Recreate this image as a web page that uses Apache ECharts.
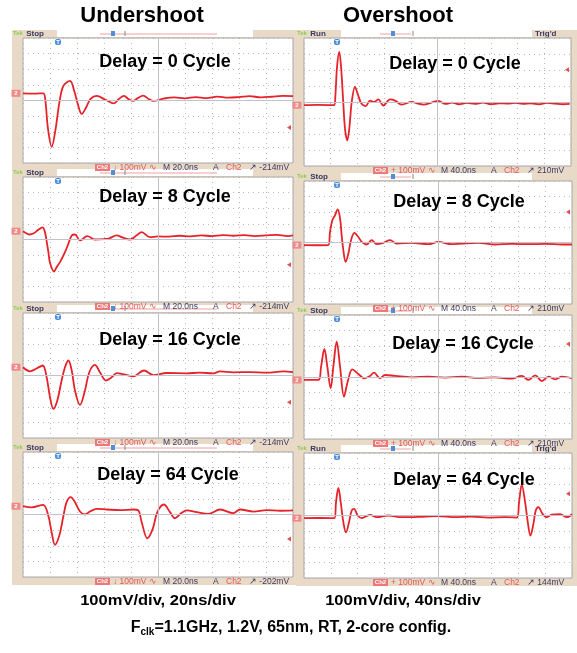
<!DOCTYPE html>
<html><head><meta charset="utf-8">
<script src="https://cdn.jsdelivr.net/npm/echarts@6/dist/echarts.min.js"></script>
<style>html,body{margin:0;padding:0;background:#fff}#c{width:577px;height:653px}</style>
</head><body><div id="c"></div><script>
// ---- data: [time ns, mV] ----
const under0 = [[0,46],[8,44],[15,46],[16.5,5],[18.5,-180],[21.3,-296],[24,-190],[27,-10],[30,95],[34.8,125],[38,60],[40.5,-20],[43.5,-86],[47,-40],[50,10],[54.6,29],[61,5],[67.4,-18],[71,10],[74.8,29],[78,10],[81.5,-3],[85,15],[89,31],[93,10],[96.5,-3],[104,12],[112,20],[120,14],[128,22],[136,15],[144,25],[152,18],[160,22],[168,28],[176,20],[184,24],[192,30],[200,28]];
const over0 = [[0,-20],[20,-18],[45,-20],[47,40],[49.5,220],[52.9,313],[55.5,220],[58.5,20],[61.5,-170],[64.9,-240],[68,-160],[71.5,0],[76.4,95],[80.5,50],[86,-10],[92.4,-26],[98.9,9],[105,0],[111.4,16],[118.9,-22],[128.9,16],[136.4,9],[146.4,-16],[161.4,1],[170,-10],[178.9,-16],[190,-5],[201.4,7],[212,-12],[222,-4],[232,-14],[244,-6],[256,-12],[268,-4],[280,-14],[292,-8],[304,-10],[316,-6],[328,-12],[340,-8],[352,-14],[364,-6],[376,-10],[388,-14],[398,-12]];
const under8 = [[0,53],[2.5,40],[4.7,32],[8,40],[11,60],[14.6,77],[16,55],[17,15],[18.8,-81],[19.9,-145],[23,-205],[24.9,-177],[27.4,-145],[31.1,-81],[33.6,-28],[36.1,26],[38.5,32],[42.2,-6],[47.6,21],[53.3,0],[60,3],[64,8],[69.4,26],[74,12],[79.3,0],[84,25],[87.9,47],[94,15],[100,20],[108,18],[116,24],[124,20],[132,26],[140,22],[148,28],[156,24],[164,28],[172,22],[180,26],[188,30],[196,22],[200,26]];
const over8 = [[0,-17],[20,-18],[36.3,-17],[38.8,69],[42.3,145],[46.3,177],[50.3,216],[53.8,157],[56.2,47],[58.7,-50],[62.2,-126],[66.2,-72],[70.2,15],[75.2,62],[81.1,36],[86.1,4],[93.6,-13],[101,15],[108.5,-11],[118.5,-2],[128.4,15],[138.4,-7],[160.8,-2],[185.7,-11],[200.6,4],[220.5,-11],[235.4,-7],[260,-2],[285,-13],[310,-9],[335,-11],[360,-9],[385,-13],[400,-13]];
const under16 = [[0,53],[5.2,27],[10,45],[14.6,64],[17.5,-11],[20,-139],[22.5,-214],[25.4,-160],[28.6,-32],[31.1,53],[33.6,96],[36.1,32],[38.5,-96],[42.2,-188],[45.9,-96],[49.1,21],[53.3,68],[57,21],[61.5,-32],[65.7,-11],[69.4,15],[75.5,6],[81.7,-6],[89.6,32],[96.6,3],[106.4,16],[121.2,14],[131,18],[141,14],[145.9,26],[155.8,20],[168.1,22],[180.5,18],[192.8,26],[200,22]];
const over16 = [[0,-19],[21.4,-19],[25.4,64],[30.4,181],[34.8,67],[39.8,-73],[43.8,67],[48.8,228],[53.8,67],[59.7,-127],[65.2,-30],[72.2,49],[81.1,19],[90.1,-8],[98.5,7],[104.5,28],[113.5,-8],[121,13],[136,7],[160.8,-2],[185.6,2],[210.5,-4],[235.4,2],[260.3,-6],[285,-2],[310,-11],[325,7],[335,-19],[345,11],[355,-26],[365,2],[375,-15],[385,2],[400,-8]];
const under64 = [[0,53],[6.4,45],[14.9,62],[18.7,-6],[21.2,-113],[23.7,-194],[26.9,-135],[30,-6],[32.3,79],[35.3,111],[38.5,79],[42.2,19],[45.9,0],[49.6,19],[54.6,36],[62,32],[71.9,28],[81.8,32],[85.4,26],[87.9,-49],[92.1,-152],[96.1,-92],[99.5,15],[104.4,64],[108.9,15],[112.6,-24],[117.5,11],[121.3,26],[128.7,15],[137.3,4],[146,32],[155.8,9],[160.8,32],[170.7,19],[180.5,28],[190.4,24],[200,26]];
const over64 = [[0,-17],[25,-16],[45.3,-17],[47.8,86],[51.3,176],[54.8,86],[58.7,-43],[62.7,-108],[67.2,-43],[71.2,32],[74.7,43],[80.1,0],[86.1,-17],[98.5,4],[108.5,-11],[125.9,0],[145.8,-11],[170.7,-9],[200.6,-4],[225.5,-11],[250.4,-7],[275.3,-13],[300.1,-11],[317.6,-13],[321,86],[325,198],[330,86],[334,-43],[338,-129],[342.4,-54],[345.9,32],[349.9,54],[355.9,11],[362.3,-11],[369.8,6],[382.3,8],[392.2,-11],[400,8]];

const traces = [under0, over0, under8, over8, under16, over16, under64, over64];
const panelTitles = ['Delay = 0 Cycle','Delay = 0 Cycle','Delay = 8 Cycle','Delay = 8 Cycle','Delay = 16 Cycle','Delay = 16 Cycle','Delay = 64 Cycle','Delay = 64 Cycle'];
const columnTitles = ['Undershoot','Overshoot'];
const scaleNotes = ['100mV/div, 20ns/div','100mV/div, 40ns/div'];
const timeSpans = [200, 400];          // ns across 10 divisions
const timeBase = ['M 20.0ns','M 40.0ns'];
const scopeState = ['Stop','Run','Stop','Stop','Stop','Stop','Stop','Run'];
const trigLevelText = ['-214mV','210mV','-214mV','210mV','-214mV','210mV','-202mV','144mV'];
const trigMarks = [-172, 202, -162, 199, -171, 213, -156, 140];  // mV
const footnote = 'F_clk=1.1GHz, 1.2V, 65nm, RT, 2-core config.';

// ---- layout ----
const layout = [
  {x:23, y:38,  w:270, h:125},
  {x:304,y:38,  w:267, h:128},
  {x:23, y:177, w:270, h:125},
  {x:304,y:181, w:268, h:123},
  {x:23, y:313, w:270, h:125},
  {x:304,y:315, w:268, h:124},
  {x:23, y:452, w:270, h:125},
  {x:304,y:453, w:268, h:125}
];
const titlePos = [[165,62],[455,64],[165,197],[459,202],[170,340],[463,344],[168,475],[464,480]];
const BEIGE = '#e9d9c7';
const RED = '#e6232a';
const NAVY = '#3a3a62';
const FONT = '"Liberation Sans", Arial, sans-serif';

const grids=[], xAxes=[], yAxes=[], series=[], graphics=[];

function txt(x, y, text, fill, font, extra) {
  return Object.assign({type:'text', z:5, silent:true, x:x, y:y, style:{text:text, fill:fill, font:font, verticalAlign:'middle'}}, extra || {});
}

traces.forEach((data, i) => {
  const L = layout[i], col = i % 2, span = timeSpans[col];
  const fx0 = col ? 296 : 12, fx1 = col ? 577 : 296;
  // frame
  graphics.push({type:'rect', z:-10, silent:true, shape:{x:fx0, y:L.y-8, width:fx1-fx0, height:L.h+16}, style:{fill:BEIGE}});
  // top bar white box
  const bx0 = col ? 341 : 57, bx1 = col ? 532 : 253;
  graphics.push({type:'rect', z:-9, silent:true, shape:{x:bx0, y:L.y-8, width:bx1-bx0, height:7}, style:{fill:'#fff'}});
  graphics.push({type:'line', z:-8, silent:true, shape:{x1:bx0+(col?39:43), y1:L.y-4, x2:bx0+(col?70:160), y2:L.y-4}, style:{stroke:'#f2a0a0', lineWidth:1}});
  graphics.push({type:'rect', z:-8, silent:true, shape:{x:(col?391:111), y:L.y-7, width:4, height:5}, style:{fill:'#4d8fd8'}});
  graphics.push({type:'line', z:-8, silent:true, shape:{x1:(col?413:125), y1:L.y-7, x2:(col?413:125), y2:L.y-2}, style:{stroke:'#888', lineWidth:1}});
  graphics.push({type:'text', z:-7, silent:true, x:fx0+1, y:L.y-4.5, style:{text:'{g|Tek} {n|'+scopeState[i]+'}', verticalAlign:'middle', rich:{g:{fill:'#8cd050', font:'bold 6px '+FONT}, n:{fill:NAVY, font:'bold 8px '+FONT}}}});
  if (scopeState[i] === 'Run') {
    graphics.push(txt(535, L.y-4.5, "Trig'd", NAVY, 'bold 8px '+FONT, {z:-7}));
  }
  // trigger position marker (blue T)
  const tx = col ? 337 : 58;
  graphics.push({type:'rect', z:5, silent:true, shape:{x:tx-3, y:L.y+1, width:6, height:6, r:2}, style:{fill:'#4d8fd8'}});
  graphics.push({type:'text', z:6, silent:true, x:tx, y:L.y+1, style:{text:'T', fill:'#fff', font:'bold 6px '+FONT, align:'center'}});
  // bottom status line
  const by = L.y + L.h + 4.5;
  const bs = col ? 373 : 95;
  graphics.push({type:'rect', z:5, silent:true, shape:{x:bs, y:by-3.5, width:15, height:7}, style:{fill:'#ee7777'}});
  graphics.push(txt(bs+7.5, by, 'Ch2', '#fff', 'bold 6px '+FONT, {z:6, style:{text:'Ch2', fill:'#fff', font:'bold 6px '+FONT, align:'center', verticalAlign:'middle'}}));
  graphics.push(txt(bs+18, by, (col ? '+ ' : '\u2193 ') + '100mV \u223F', '#e05a5a', '8.5px '+FONT));
  graphics.push(txt(bs+68, by, timeBase[col], NAVY, '8.5px '+FONT));
  graphics.push(txt(bs+118, by, 'A', NAVY, '8.5px '+FONT));
  graphics.push(txt(bs+131, by, 'Ch2', '#e05a5a', '8.5px '+FONT));
  graphics.push(txt(bs+154, by, '\u2197 ' + trigLevelText[i], NAVY, '8.5px '+FONT));
  // delay title
  graphics.push({type:'text', z:20, silent:true, x:titlePos[i][0], y:titlePos[i][1], style:{text:panelTitles[i], fill:'#000', font:'bold 18px '+FONT, align:'center', verticalAlign:'middle'}});

  grids.push({left:L.x, top:L.y, width:L.w, height:L.h, show:true, backgroundColor:'#fff', borderColor:'#a9a9a9', borderWidth:1, containLabel:false});
  xAxes.push({type:'value', gridIndex:i, min:0, max:span, interval:span/10,
    axisLabel:{show:false}, axisTick:{show:false}, axisLine:{show:false},
    splitLine:{show:true, lineStyle:{color:'#b8b8b8', width:1, type:[1,4]}}});
  yAxes.push({type:'value', gridIndex:i, min:-400, max:400, interval:100,
    axisLabel:{show:false}, axisTick:{show:false}, axisLine:{show:false},
    splitLine:{show:true, lineStyle:{color:'#b8b8b8', width:1, type:[1,4]}}});
  series.push({type:'line', xAxisIndex:i, yAxisIndex:i, data:data, showSymbol:false, smooth:0.35,
    lineStyle:{color:RED, width:1.8}, z:3, silent:true, animation:false,
    markLine:{silent:true, symbol:'none', label:{show:false}, lineStyle:{color:'#c2c2cc', type:'solid', width:1},
      data:[{xAxis:span/2},{yAxis:0}]},
    markPoint:{silent:true, data:[
      {coord:[0, data[0][1]], symbol:'rect', symbolSize:[9,7], symbolOffset:[-7,0], itemStyle:{color:'#f08a8a'}, label:{show:true, formatter:'2', color:'#fff', fontSize:6, fontWeight:'bold'}},
      {coord:[span, trigMarks[i]], symbol:'triangle', symbolRotate:90, symbolSize:[5,4], symbolOffset:[-4,0], itemStyle:{color:'#e05050'}, label:{show:false}}
    ]}
  });
});

// column titles & notes
const colCenters = [142, 398];
const noteCenters = [158, 403];
columnTitles.forEach((t, c) => {
  graphics.push({type:'text', z:30, silent:true, x:colCenters[c], y:16, style:{text:t, fill:'#000', font:'bold 22px '+FONT, align:'center', verticalAlign:'middle'}});
});
scaleNotes.forEach((t, c) => {
  graphics.push({type:'text', z:30, silent:true, x:noteCenters[c], y:601, scaleX:1.1, originX:0, originY:0,
    style:{text:t, fill:'#000', font:'bold 15px '+FONT, align:'center', verticalAlign:'middle'}});
});
const fParts = footnote.split('_clk');
graphics.push({type:'text', z:30, silent:true, x:291, y:628, style:{
  text:'{b|'+fParts[0]+'}{s|clk}{b|'+fParts[1]+'}', align:'center', verticalAlign:'middle',
  rich:{b:{fill:'#000', font:'bold 16px '+FONT}, s:{fill:'#000', font:'bold 10px '+FONT, padding:[8,0,0,0]}}
}});

const chart = echarts.init(document.getElementById('c'), null, {renderer:'canvas'});
chart.setOption({animation:false, backgroundColor:'#fff', grid:grids, xAxis:xAxes, yAxis:yAxes, series:series, graphic:{elements:graphics}});
</script></body></html>
